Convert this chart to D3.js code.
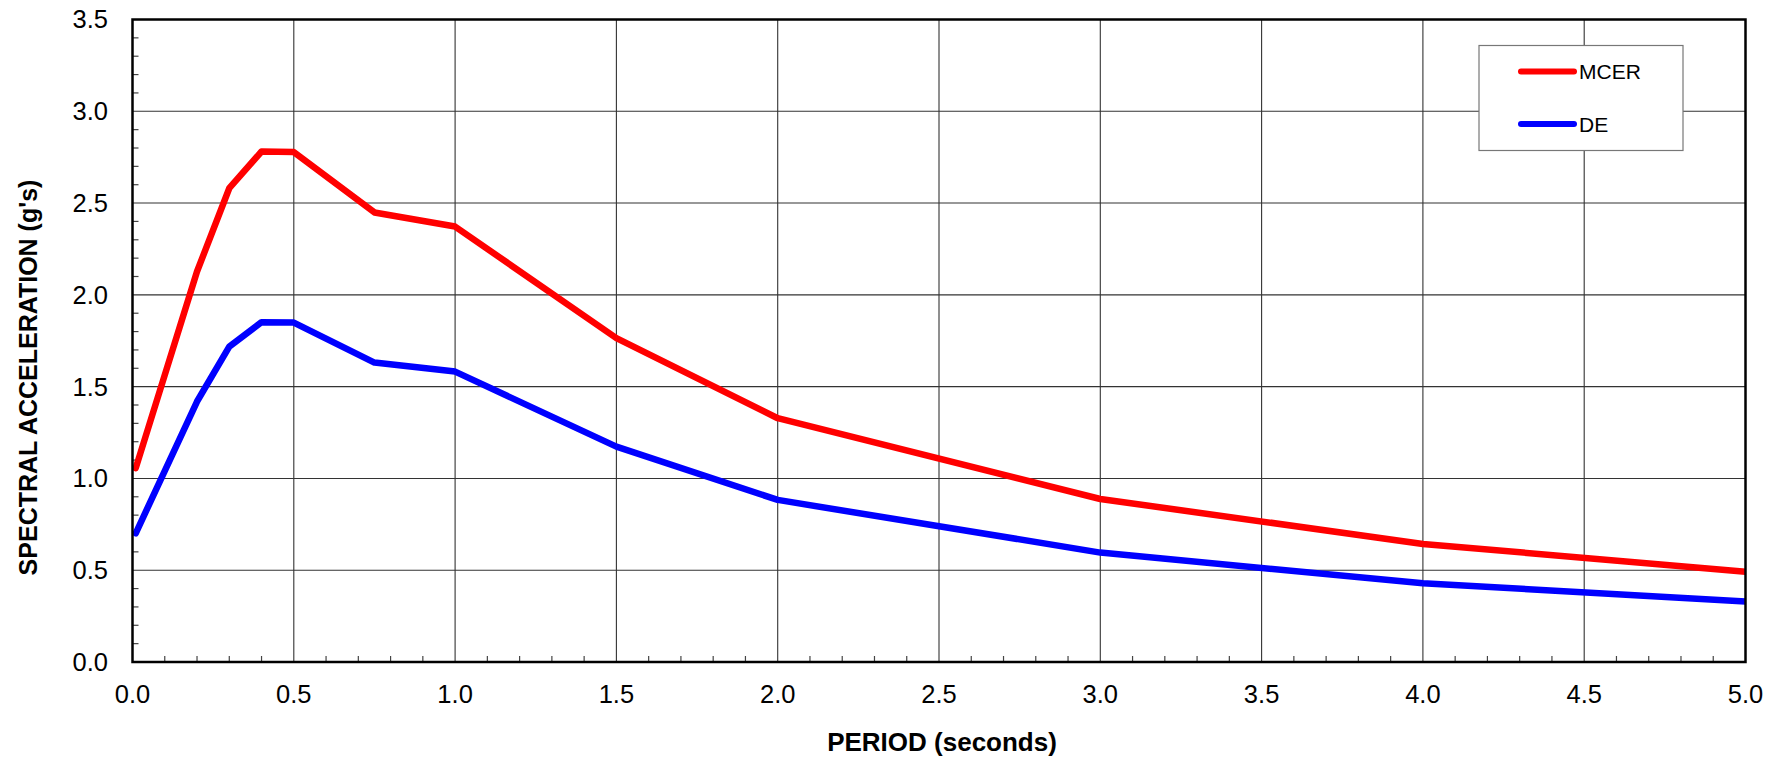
<!DOCTYPE html>
<html>
<head>
<meta charset="utf-8">
<script src="https://cdn.jsdelivr.net/npm/d3@7"></script>
<style>
  body { margin: 0; background: #fff; }
  svg { display: block; font-family: "Liberation Sans", Arial, sans-serif; }
</style>
</head>
<body>
<svg id="chart" width="1775" height="759"></svg>
<script>
// periods (s) and spectral accelerations (g)
var periods = [0.01, 0.2, 0.3, 0.4, 0.5, 0.75, 1.0, 1.5, 2.0, 3.0, 4.0, 5.0];
var mcer    = [1.056, 2.127, 2.581, 2.781, 2.778, 2.449, 2.372, 1.764, 1.328, 0.888, 0.643, 0.492];
var de      = [0.701, 1.419, 1.718, 1.851, 1.849, 1.631, 1.582, 1.173, 0.883, 0.596, 0.429, 0.329];

var xTicks = [0, 0.5, 1.0, 1.5, 2.0, 2.5, 3.0, 3.5, 4.0, 4.5, 5.0];
var yTicks = [0, 0.5, 1.0, 1.5, 2.0, 2.5, 3.0, 3.5];

var series = [
  {name: "MCER", color: "#ff0000", values: mcer},
  {name: "DE",   color: "#0000ff", values: de}
];

var margin = {top: 19.5, right: 29.5, bottom: 97, left: 132.5},
    width = 1775 - margin.left - margin.right,
    height = 759 - margin.top - margin.bottom;

var svg = d3.select("#chart");

var x = d3.scaleLinear().domain([0, 5]).range([0, width]);
var y = d3.scaleLinear().domain([0, 3.5]).range([height, 0]);

var vis = svg.append("g")
  .attr("transform", "translate(" + margin.left + "," + margin.top + ")");

// grid
vis.append("g").selectAll("line")
  .data(xTicks.slice(1, -1))
  .enter().append("line")
    .attr("x1", function(d) { return x(d); })
    .attr("x2", function(d) { return x(d); })
    .attr("y1", 0)
    .attr("y2", height)
    .attr("stroke", "#333")
    .attr("stroke-width", 1.1);

vis.append("g").selectAll("line")
  .data(yTicks.slice(1, -1))
  .enter().append("line")
    .attr("x1", 0)
    .attr("x2", width)
    .attr("y1", function(d) { return y(d); })
    .attr("y2", function(d) { return y(d); })
    .attr("stroke", "#333")
    .attr("stroke-width", 1.1);

// minor ticks, every 0.1, pointing inward
var minorX = d3.range(1, 50).filter(function(i) { return i % 5; }).map(function(i) { return i / 10; });
var minorY = d3.range(1, 35).filter(function(i) { return i % 5; }).map(function(i) { return i / 10; });

vis.append("g").selectAll("line")
  .data(minorX)
  .enter().append("line")
    .attr("x1", function(d) { return x(d); })
    .attr("x2", function(d) { return x(d); })
    .attr("y1", height)
    .attr("y2", height - 6)
    .attr("stroke", "#444")
    .attr("stroke-width", 1.2);

vis.append("g").selectAll("line")
  .data(minorY)
  .enter().append("line")
    .attr("x1", 0)
    .attr("x2", 6)
    .attr("y1", function(d) { return y(d); })
    .attr("y2", function(d) { return y(d); })
    .attr("stroke", "#444")
    .attr("stroke-width", 1.2);

// tick labels
vis.append("g").selectAll("text")
  .data(xTicks)
  .enter().append("text")
    .attr("x", function(d) { return x(d); })
    .attr("y", height + 40.5)
    .attr("text-anchor", "middle")
    .style("font-size", "25.5px")
    .text(function(d) { return d3.format(".1f")(d); });

vis.append("g").selectAll("text")
  .data(yTicks)
  .enter().append("text")
    .attr("x", -24.5)
    .attr("y", function(d) { return y(d); })
    .attr("dy", "0.35em")
    .attr("text-anchor", "end")
    .style("font-size", "25.5px")
    .text(function(d) { return d3.format(".1f")(d); });

// lines
vis.append("clipPath").attr("id", "plot-clip")
  .append("rect").attr("width", width).attr("height", height);

var line = d3.line()
  .x(function(d, i) { return x(periods[i]); })
  .y(function(d) { return y(d); });

vis.append("g").attr("clip-path", "url(#plot-clip)")
  .selectAll("path")
  .data(series)
  .enter().append("path")
    .attr("d", function(s) { return line(s.values); })
    .attr("fill", "none")
    .attr("stroke", function(s) { return s.color; })
    .attr("stroke-width", 6.5)
    .attr("stroke-linejoin", "round")
    .attr("stroke-linecap", "round");

// frame
vis.append("rect")
  .attr("width", width)
  .attr("height", height)
  .attr("fill", "none")
  .attr("stroke", "#000")
  .attr("stroke-width", 2.5);

// legend
var legend = svg.append("g").attr("transform", "translate(1479,45.5)");

legend.append("rect")
  .attr("width", 204)
  .attr("height", 105)
  .attr("fill", "#fff")
  .attr("stroke", "#777")
  .attr("stroke-width", 1.2);

var item = legend.selectAll("g.item")
  .data(series)
  .enter().append("g")
    .attr("class", "item")
    .attr("transform", function(s, i) { return "translate(0," + (26 + i * 52.5) + ")"; });

item.append("line")
  .attr("x1", 42)
  .attr("x2", 95)
  .attr("stroke", function(s) { return s.color; })
  .attr("stroke-width", 6)
  .attr("stroke-linecap", "round");

item.append("text")
  .attr("x", 100)
  .attr("y", 7.8)
  .style("font-size", "21px")
  .text(function(s) { return s.name; });

// axis titles
svg.append("text")
  .attr("x", margin.left + width / 2 + 3)
  .attr("y", 750.5)
  .attr("text-anchor", "middle")
  .style("font-size", "26px")
  .style("font-weight", "bold")
  .text("PERIOD (seconds)");

svg.append("text")
  .attr("transform", "translate(36.5,377.5) rotate(-90)")
  .attr("text-anchor", "middle")
  .style("font-size", "25px")
  .style("font-weight", "bold")
  .text("SPECTRAL ACCELERATION (g's)");
</script>
</body>
</html>
